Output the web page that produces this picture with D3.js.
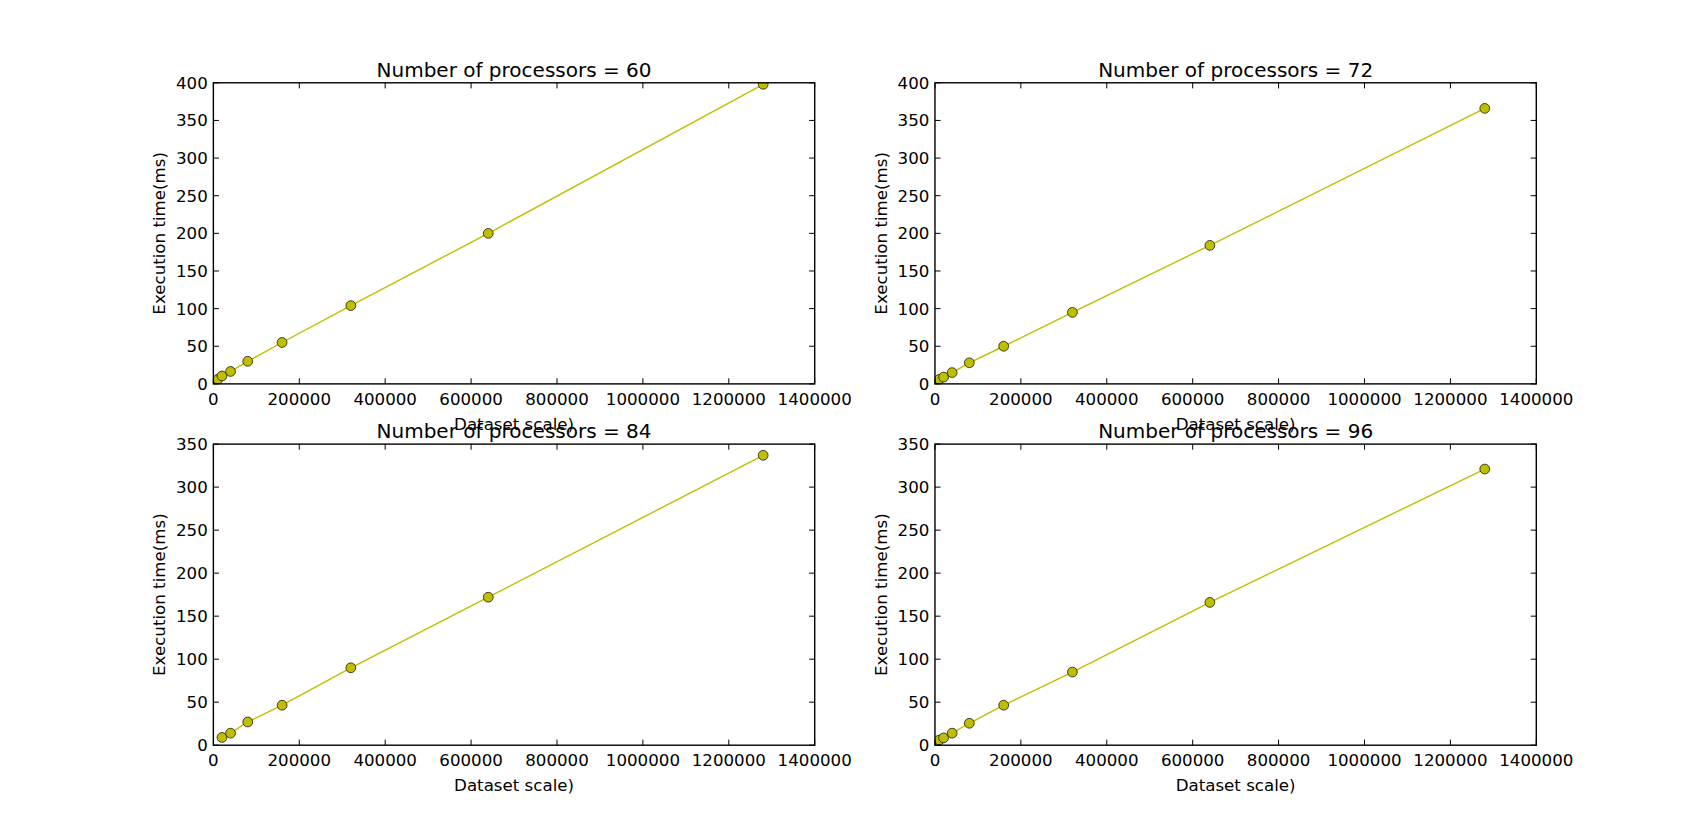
<!DOCTYPE html>
<html lang="en">
  <head>
    <meta charset="UTF-8" />
    <title>Execution time vs dataset scale</title>
    <script src="https://cdn.jsdelivr.net/npm/d3@7/dist/d3.min.js"></script>
    <style>
      body { margin: 0; background: #fff; }
      text { font-family: "DejaVu Sans", sans-serif; fill: #000; }
    </style>
  </head>
  <body>
    <svg width="1707" height="828"></svg>
    <script>
      // data
      const processors = [60, 72, 84, 96];
      const datasetSizes = [10000, 20000, 40000, 80000, 160000, 320000, 640000, 1280000];
      const time60 = [6, 10.5, 16.5, 30, 55, 104, 200, 398];
      const time72 = [6, 9, 15, 28, 50, 95, 184, 366];
      const time84 = [null, 9, 14, 27, 46.5, 90, 172, 337]; // no point at 10000
      const time96 = [6, 8.5, 14, 25.5, 46.5, 85, 166, 321];
      const xTicks = [0, 200000, 400000, 600000, 800000, 1000000, 1200000, 1400000];
      const yMaxes = [400, 400, 350, 350];

      const series = [time60, time72, time84, time96];

      const svg = d3.select("svg");
      const W = +svg.attr("width"), H = +svg.attr("height");

      // matplotlib-like subplot grid (left .125, right .9, bottom .1, top .9, wspace/hspace .2)
      const padL = W * 0.125, padR = W * 0.9, padT = H * 0.1, padB = H * 0.9;
      const aw = (padR - padL) / 2.2, ah = (padB - padT) / 2.2;
      const tickLen = 5.6;
      const lineColor = "#bfbf00";

      processors.forEach((p, i) => {
        const col = i % 2, row = Math.floor(i / 2);
        const x0 = padL + col * aw * 1.2;
        const y0 = padT + row * ah * 1.2;
        const g = svg.append("g").attr("transform", `translate(${x0},${y0})`);

        const x = d3.scaleLinear().domain([0, 1400000]).range([0, aw]);
        const y = d3.scaleLinear().domain([0, yMaxes[i]]).range([ah, 0]);
        const yTicks = d3.range(0, yMaxes[i] + 1, 50);

        const pts = datasetSizes
          .map((s, k) => ({ s, t: series[i][k] }))
          .filter(d => d.t != null);

        const clipId = "clip" + i;
        g.append("clipPath").attr("id", clipId)
          .append("rect").attr("width", aw).attr("height", ah);

        const data = g.append("g").attr("clip-path", `url(#${clipId})`);
        data.append("path")
          .datum(pts)
          .attr("fill", "none")
          .attr("stroke", lineColor)
          .attr("stroke-width", 1.4)
          .attr("d", d3.line().x(d => x(d.s)).y(d => y(d.t)));
        data.selectAll("circle").data(pts).enter().append("circle")
          .attr("cx", d => x(d.s))
          .attr("cy", d => y(d.t))
          .attr("r", 4.9)
          .attr("fill", lineColor)
          .attr("stroke", "#000")
          .attr("stroke-width", 0.7);

        // inward ticks on all four sides
        const ticks = g.append("g").attr("stroke", "#000").attr("stroke-width", 1);
        xTicks.forEach(t => {
          ticks.append("line").attr("x1", x(t)).attr("x2", x(t)).attr("y1", ah).attr("y2", ah - tickLen);
          ticks.append("line").attr("x1", x(t)).attr("x2", x(t)).attr("y1", 0).attr("y2", tickLen);
        });
        yTicks.forEach(t => {
          ticks.append("line").attr("x1", 0).attr("x2", tickLen).attr("y1", y(t)).attr("y2", y(t));
          ticks.append("line").attr("x1", aw).attr("x2", aw - tickLen).attr("y1", y(t)).attr("y2", y(t));
        });

        g.append("rect")
          .attr("width", aw).attr("height", ah)
          .attr("fill", "none").attr("stroke", "#000").attr("stroke-width", 1.4);

        g.selectAll(".xt").data(xTicks).enter().append("text")
          .attr("x", d => x(d)).attr("y", ah + 21)
          .attr("text-anchor", "middle").attr("font-size", 16.67)
          .text(d => d);
        g.selectAll(".yt").data(yTicks).enter().append("text")
          .attr("x", -5.6).attr("y", d => y(d)).attr("dy", "0.36em")
          .attr("text-anchor", "end").attr("font-size", 16.67)
          .text(d => d);

        g.append("text")
          .attr("x", aw / 2).attr("y", -6)
          .attr("text-anchor", "middle").attr("font-size", 20)
          .text(`Number of processors = ${p}`);

        g.append("text")
          .attr("x", aw / 2).attr("y", ah + 46)
          .attr("text-anchor", "middle").attr("font-size", 16.67)
          .text("Dataset scale)");

        g.append("text")
          .attr("transform", `translate(${-48},${ah / 2}) rotate(-90)`)
          .attr("text-anchor", "middle").attr("font-size", 16.67)
          .text("Execution time(ms)");
      });
    </script>
  </body>
</html>
